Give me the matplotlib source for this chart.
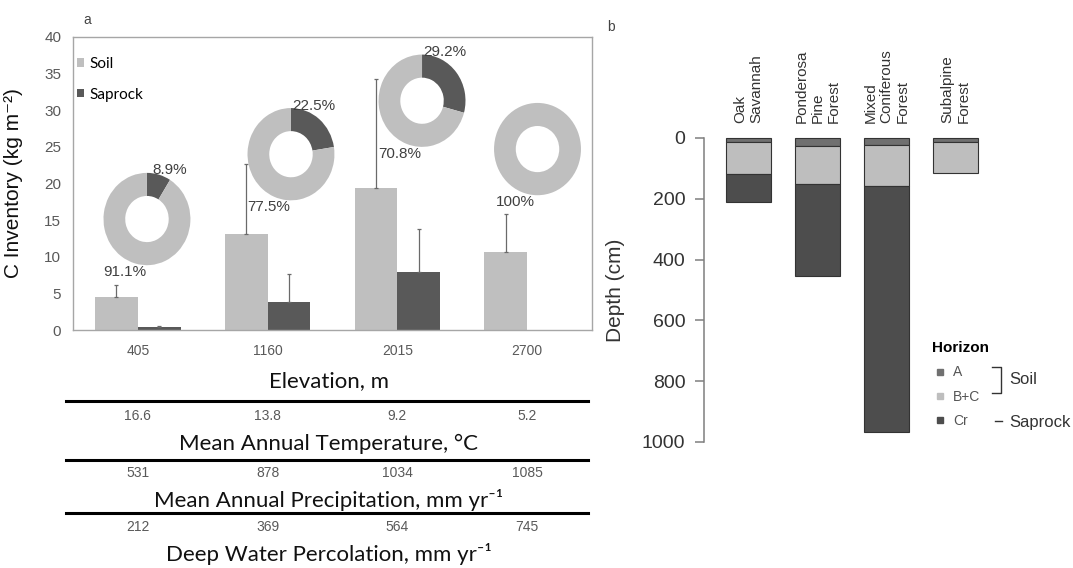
import matplotlib
matplotlib.use("Agg")
import matplotlib.pyplot as plt
from matplotlib.lines import Line2D
from matplotlib.transforms import blended_transform_factory
import numpy as np

plt.rcParams['font.family'] = ['Liberation Sans', 'DejaVu Sans']
CAL = ['Lato', 'DejaVu Sans']

# ---- panel a data ----
elevation = ["405", "1160", "2015", "2700"]
soil_c = [4.5, 13.1, 19.4, 10.7]
soil_err = [1.6, 9.6, 14.9, 5.1]
saprock_c = [0.35, 3.8, 7.9, np.nan]
saprock_err = [0.25, 3.8, 5.9, np.nan]
soil_pct = [91.1, 77.5, 70.8, 100]
saprock_pct = [8.9, 22.5, 29.2, 0]
mat = ["16.6", "13.8", "9.2", "5.2"]
precip = ["531", "878", "1034", "1085"]
perc = ["212", "369", "564", "745"]

# ---- panel b data ----
vegetation = ["Oak\nSavannah", "Ponderosa\nPine\nForest",
              "Mixed\nConiferous\nForest", "Subalpine\nForest"]
a_bottom = [13, 25, 23, 12]
bc_bottom = [118, 150, 157, 115]
cr_bottom = [211, 454, 967, np.nan]   # no saprock under subalpine forest
horizons = ["A", "B+C", "Cr"]

SOIL = '#bfbfbf'
SAP = '#595959'
A_COL = '#707070'
BC_COL = '#bebebe'
CR_COL = '#4d4d4d'

W, H = 1073, 568
fig = plt.figure(figsize=(W / 100, H / 100), dpi=100)


def px_box(l, t, r, b):
    return [l / W, 1 - b / H, (r - l) / W, (b - t) / H]


# ================= panel a =================
ax = fig.add_axes(px_box(73, 37, 592, 330))
x = np.arange(len(elevation))
bw = 0.33
ekw = dict(ecolor='#6a6a6a', lw=0.9, capsize=1.5, capthick=0.9)
b_soil = ax.bar(x - bw / 2, soil_c, bw, color=SOIL, label='Soil',
                yerr=[np.zeros(4), soil_err], error_kw=ekw)
b_sap = ax.bar(x + bw / 2, saprock_c, bw, color=SAP, label='Saprock',
               yerr=[np.zeros(4), saprock_err], error_kw=ekw)
ax.set_xlim(-0.5, 3.5)
ax.set_ylim(0, 40)
ax.set_yticks(np.arange(0, 41, 5))
ax.set_xticks(x, elevation)
ax.tick_params(axis='y', length=0, pad=8.5, labelsize=11, labelcolor='#595959')
ax.tick_params(axis='x', length=0, pad=10, labelsize=10, labelcolor='#595959')
for s in ax.spines.values():
    s.set_color('#a6a6a6')
    s.set_linewidth(1)
ax.set_ylabel('C Inventory (kg m⁻²)', fontsize=15, color='#111')
ax.yaxis.set_label_coords(-0.096, 0.5)

ax.legend(handles=[b_soil, b_sap], loc='upper left', frameon=False,
          bbox_to_anchor=(77 / W, 1 - 57 / H), bbox_transform=fig.transFigure,
          prop={'family': CAL, 'size': 11}, handlelength=0.45, handleheight=0.45,
          handletextpad=0.35, labelspacing=1.1, borderpad=0, borderaxespad=0)

# donuts (layout: centre offsets and sizes in data units)
donut_dx = [0.07, 0.18, 0.19, 0.08]
donut_y = [15.15, 24.0, 31.3, 24.7]
dw, dh = 0.67, 12.6
for i in range(4):
    cx, cy = x[i] + donut_dx[i], donut_y[i]
    iax = ax.inset_axes([cx - dw / 2, cy - dh / 2, dw, dh], transform=ax.transData)
    iax.pie([saprock_pct[i], soil_pct[i]], colors=[SAP, SOIL], startangle=90,
            counterclock=False, wedgeprops=dict(width=0.5, edgecolor='none'))
    iax.set_aspect('auto')
    iax.set_xlim(-1, 1)
    iax.set_ylim(-1, 1)
    iax.axis('off')
    if saprock_pct[i] > 0:
        ax.annotate(f"{saprock_pct[i]:g}%", xy=(cx, cy), xytext=(16.5, 35),
                    textcoords='offset points', ha='center', va='center',
                    fontsize=11, color='#404040', zorder=10)
    ax.annotate(f"{soil_pct[i]:g}%", xy=(cx, cy), xytext=(-16, -38),
                textcoords='offset points', ha='center', va='center',
                fontsize=11, color='#404040', zorder=10)

# table under panel a
tr = blended_transform_factory(ax.transData, fig.transFigure)
trc = blended_transform_factory(ax.transAxes, fig.transFigure)
rows = [(mat, 416), (precip, 473), (perc, 527)]
for vals, ypx in rows:
    for i, v in enumerate(vals):
        ax.text(x[i], 1 - ypx / H, v, transform=tr, ha='center', va='center',
                fontsize=10, color='#595959')
captions = [("Elevation, m", 381), ("Mean Annual Temperature, °C", 444),
            ("Mean Annual Precipitation, mm yr⁻¹", 500),
            ("Deep Water Percolation, mm yr⁻¹", 554)]
for txt, ypx in captions:
    ax.text(0.493, 1 - ypx / H, txt, transform=trc, ha='center', va='center',
            fontsize=16, family=CAL, color='#111')
for ypx in [401, 460, 513]:
    fig.add_artist(Line2D([66 / W, 588 / W], [1 - ypx / H] * 2,
                          transform=fig.transFigure, color='black', lw=2.2))

# ================= panel b =================
axb = fig.add_axes(px_box(704, 138, 1060, 442))
xb = np.arange(len(vegetation))
bwb = 0.645
bkw = dict(edgecolor='#333333', linewidth=0.8, clip_on=False)
axb.bar(xb, a_bottom, bwb, color=A_COL, **bkw)
axb.bar(xb, np.subtract(bc_bottom, a_bottom), bwb, bottom=a_bottom, color=BC_COL, **bkw)
axb.bar(xb, np.subtract(cr_bottom, bc_bottom), bwb, bottom=bc_bottom, color=CR_COL, **bkw)
axb.set_ylim(1000, 0)
axb.set_xlim(-0.645, -0.645 + 356 / 69)
for k in ['top', 'right', 'bottom']:
    axb.spines[k].set_visible(False)
axb.spines['left'].set_bounds(0, 1000)
axb.spines['left'].set_color('#7f7f7f')
axb.spines['left'].set_linewidth(1.1)
axb.set_yticks(np.arange(0, 1001, 200))
axb.set_xticks([])
axb.tick_params(axis='y', length=6.5, width=1.1, color='#7f7f7f', pad=7,
                labelsize=14, labelcolor='#333333')
axb.set_ylabel('Depth (cm)', fontsize=15, color='#333333')
axb.yaxis.set_label_coords(-0.222, 0.5)
for i, name in enumerate(vegetation):
    axb.annotate(name, xy=(xb[i], 0), xytext=(0, 11), textcoords='offset points',
                 rotation=90, ha='center', va='bottom', multialignment='left',
                 fontsize=11, color='#333333', annotation_clip=False)

hh = [Line2D([], [], marker='s', ls='', color=c, ms=4.5) for c in [A_COL, BC_COL, CR_COL]]
leg = axb.legend(hh, horizons, title='Horizon', loc='upper left',
                 bbox_to_anchor=(932 / W, 1 - 341 / H), bbox_transform=fig.transFigure,
                 frameon=False, fontsize=10, alignment='left',
                 title_fontproperties={'weight': 'bold', 'size': 11},
                 handlelength=1.2, handletextpad=0.3, labelspacing=0.75,
                 borderpad=0, borderaxespad=0)
for t in leg.get_texts():
    t.set_color('#555555')

fig.add_artist(Line2D([992 / W, 1001 / W, 1001 / W, 992 / W],
                      [1 - 367 / H, 1 - 367 / H, 1 - 393 / H, 1 - 393 / H],
                      transform=fig.transFigure, color='#333333', lw=1))
fig.add_artist(Line2D([995 / W, 1002 / W], [1 - 421 / H] * 2,
                      transform=fig.transFigure, color='#333333', lw=1))
fig.text(1009 / W, 1 - 380 / H, 'Soil', va='center', fontsize=12, color='#333333')
fig.text(1009 / W, 1 - 422 / H, 'Saprock', va='center', fontsize=12, color='#333333')

fig.text(87 / W, 1 - 20 / H, 'a', ha='center', va='center', fontsize=10, color='#444444')
fig.text(611 / W, 1 - 27 / H, 'b', ha='center', va='center', fontsize=10, color='#444444')

fig.savefig('out.png', dpi=100)
